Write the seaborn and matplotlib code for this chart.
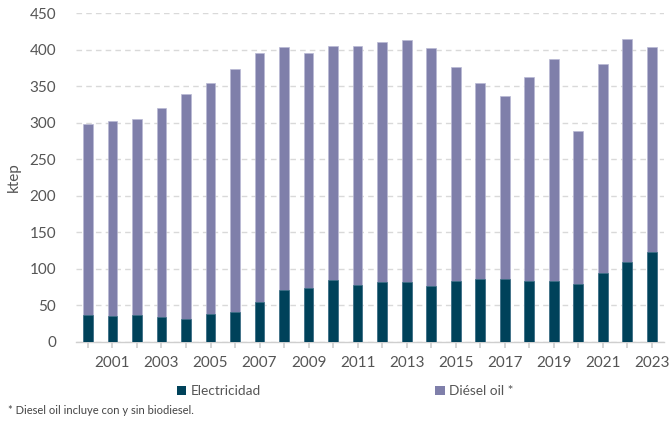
import matplotlib
matplotlib.use("Agg")
import matplotlib.pyplot as plt
import seaborn as sns
import pandas as pd
from matplotlib.patches import Patch

years = list(range(2000, 2024))
electricidad = [36.5, 35.6, 37.4, 34.2, 31.5, 38.3, 41.0, 54.7, 71.0, 73.4, 85.0, 77.7,
                81.8, 81.8, 77.0, 83.0, 85.7, 86.6, 83.0, 83.0, 79.8, 94.2, 109.6, 123.0]
totales = [298.8, 301.9, 304.6, 320.6, 338.8, 354.3, 373.0, 395.0, 403.0, 395.4, 405.5, 405.0,
           411.0, 413.7, 401.8, 376.7, 353.9, 337.0, 362.0, 386.7, 288.7, 380.0, 414.0, 404.0]
diesel = [round(t - e, 1) for t, e in zip(totales, electricidad)]

c_elec = "#00425a"
c_diesel = "#7f7faa"
txt = "#555555"

df = pd.DataFrame({"year": [str(y) for y in years], "elec": electricidad, "diesel": diesel})
df["total"] = df["elec"] + df["diesel"]

sns.set_theme(style="white")
plt.rcParams["font.family"] = ["Lato", "DejaVu Sans"]

fig = plt.figure(figsize=(6.7, 4.21), dpi=100)
ax = fig.add_axes([0.113, 0.188, 0.878, 0.781])

sns.barplot(data=df, x="year", y="total", color=c_diesel, width=0.4, ax=ax,
            saturation=1, edgecolor="#b9b9d4", linewidth=0.5, zorder=3)
sns.barplot(data=df, x="year", y="elec", color=c_elec, width=0.4, ax=ax,
            saturation=1, edgecolor="#3d7287", linewidth=0.5, zorder=4)

ax.set_ylim(0, 450)
ax.set_xlim(-0.5, len(years) - 0.5)
ax.set_yticks(range(0, 451, 50))
ax.yaxis.grid(True, linestyle=(0, (4, 3)), color="#d9d9d9", linewidth=1, zorder=0)
ax.set_axisbelow(True)
for s in ["top", "right", "left"]:
    ax.spines[s].set_visible(False)
ax.spines["bottom"].set_color("#cfcfcf")
ax.spines["bottom"].set_linewidth(1)

ax.set_xticks(range(len(years)))
ax.set_xticklabels([str(y) if y % 2 == 1 else "" for y in years])
ax.tick_params(axis="x", which="both", length=4, color="#cfcfcf", labelsize=11,
               labelcolor=txt, pad=6, bottom=True)
ax.tick_params(axis="y", length=0, labelsize=11, labelcolor=txt, pad=14)
ax.set_xlabel("")
ax.set_ylabel("ktep", fontsize=11, color=txt, labelpad=6)

handles = [Patch(facecolor=c_elec, edgecolor="none"), Patch(facecolor=c_diesel, edgecolor="none")]
fig.legend(handles, ["Electricidad", "Diésel oil *"], loc="center", ncol=2,
           bbox_to_anchor=(0.515, 0.071), frameon=False, fontsize=9.8,
           handlelength=0.7, handleheight=0.7, handletextpad=0.3, columnspacing=12.8,
           labelcolor=txt)
fig.text(0.012, 0.026, "* Diesel oil incluye con y sin biodiesel.", fontsize=8, color="#444444",
         va="center", ha="left")

fig.savefig("out.png", dpi=100)
